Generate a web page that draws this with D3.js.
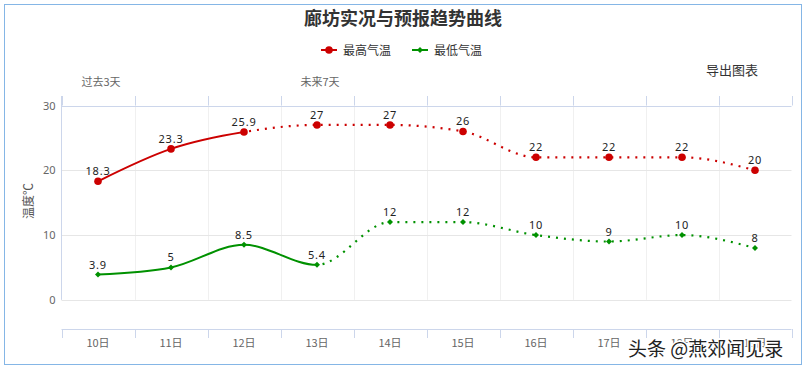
<!DOCTYPE html>
<html>
<head>
<meta charset="utf-8">
<script src="https://cdn.jsdelivr.net/npm/d3@7"></script>
<style>
  body { margin: 0; background: #fff; }
  text { font-family: "Noto Sans CJK SC", "Noto Sans", sans-serif; }
</style>
</head>
<body>
<script>
// chart data
var days = ["10日", "11日", "12日", "13日", "14日", "15日", "16日", "17日", "18日", "19日"];
var highTemps = [18.3, 23.3, 25.9, 27, 27, 26, 22, 22, 22, 20];
var lowTemps = [3.9, 5, 8.5, 5.4, 12, 12, 10, 9, 10, 8];
var yTicks = [0, 10, 20, 30];
var periodLabels = [["10日", "过去3天"], ["13日", "未来7天"]];
// index where the observed part stops and the forecast starts
var highSplit = 2;
var lowSplit = 3;

var w = 807, h = 371;
// note: "top" is a reserved window property, so use plotX0 etc.
var plotX0 = 61.5, plotX1 = 791.5, plotY0 = 105.5, plotY1 = 329;

var svg = d3.select("body").append("svg")
    .attr("width", w)
    .attr("height", h);

// outer frame
svg.append("rect")
    .attr("x", 4.5).attr("y", 4.5)
    .attr("width", 797).attr("height", 360)
    .attr("fill", "none")
    .attr("stroke", "#85b6e6");

var xScale = d3.scaleBand()
    .domain(days)
    .range([plotX0, plotX1]);

var yScale = d3.scaleLinear()
    .domain([-4.5, 30])
    .range([plotY1, plotY0]);

var cx = function(i) { return xScale(days[i]) + xScale.bandwidth() / 2; };
var edges = days.map(function(d) { return xScale(d); }).concat(plotX1);

// vertical grid lines
svg.selectAll(".vgrid")
    .data(edges.slice(1, -1))
    .enter().append("line")
    .attr("x1", function(d) { return Math.round(d) + 0.5; })
    .attr("x2", function(d) { return Math.round(d) + 0.5; })
    .attr("y1", plotY0).attr("y2", yScale(0))
    .attr("stroke", "#f0f0f0");

// horizontal grid lines
svg.selectAll(".hgrid")
    .data(yTicks)
    .enter().append("line")
    .attr("x1", plotX0).attr("x2", plotX1)
    .attr("y1", function(d) { return Math.round(yScale(d)) + 0.5; })
    .attr("y2", function(d) { return Math.round(yScale(d)) + 0.5; })
    .attr("stroke", function(d) { return d === 30 ? "#ccd6eb" : "#e6e6e6"; });

// y axis line
svg.append("line")
    .attr("x1", plotX0).attr("x2", plotX0)
    .attr("y1", 96).attr("y2", yScale(0))
    .attr("stroke", "#ccd6eb");

// top axis ticks
svg.selectAll(".ttick")
    .data(edges)
    .enter().append("line")
    .attr("x1", function(d) { return Math.round(d) + 0.5; })
    .attr("x2", function(d) { return Math.round(d) + 0.5; })
    .attr("y1", 96).attr("y2", plotY0)
    .attr("stroke", "#ccd6eb");

// bottom axis
svg.append("line")
    .attr("x1", plotX0).attr("x2", plotX1)
    .attr("y1", plotY1 + 0.5).attr("y2", plotY1 + 0.5)
    .attr("stroke", "#ccd6eb");
svg.selectAll(".btick")
    .data(edges)
    .enter().append("line")
    .attr("x1", function(d) { return Math.round(d) + 0.5; })
    .attr("x2", function(d) { return Math.round(d) + 0.5; })
    .attr("y1", plotY1).attr("y2", plotY1 + 9)
    .attr("stroke", "#ccd6eb");

var xAxis = d3.axisBottom(xScale).tickSize(0).tickPadding(10);
var gx = svg.append("g")
    .attr("transform", "translate(0," + plotY1 + ")")
    .call(xAxis);
gx.select(".domain").remove();
gx.selectAll("text")
    .attr("font-size", "11px")
    .attr("fill", "#666")
    .style("font-family", "'Noto Sans CJK SC', sans-serif");

var yAxis = d3.axisLeft(yScale).tickValues(yTicks).tickSize(0).tickPadding(6);
var gy = svg.append("g")
    .attr("transform", "translate(" + plotX0 + ",0)")
    .call(yAxis);
gy.select(".domain").remove();
gy.selectAll("text")
    .attr("font-size", "11px")
    .attr("fill", "#666")
    .style("font-family", "'Noto Sans', sans-serif");

// period labels above the plot
svg.selectAll(".period")
    .data(periodLabels)
    .enter().append("text")
    .attr("x", function(d) { return xScale(d[0]) + xScale.bandwidth() / 2 + 3; })
    .attr("y", 86)
    .attr("text-anchor", "middle")
    .attr("font-size", "11px")
    .attr("fill", "#666")
    .text(function(d) { return d[1]; });

// y title
svg.append("text")
    .attr("transform", "translate(33,201) rotate(-90)")
    .attr("text-anchor", "middle")
    .attr("font-size", "12px")
    .attr("fill", "#555")
    .text("温度℃");

// title
svg.append("text")
    .attr("x", 403).attr("y", 25)
    .attr("text-anchor", "middle")
    .attr("font-size", "18px")
    .attr("font-weight", "bold")
    .attr("fill", "#333")
    .text("廊坊实况与预报趋势曲线");

svg.append("text")
    .attr("x", 758).attr("y", 75)
    .attr("text-anchor", "end")
    .attr("font-size", "13px")
    .attr("fill", "#333")
    .text("导出图表");

// series (green markers: square turned 45deg)
var series = [
    { name: "最高气温", values: highTemps, split: highSplit, color: "#cc0000", symbol: d3.symbolCircle, size: 45, rot: 0 },
    { name: "最低气温", values: lowTemps, split: lowSplit, color: "#009100", symbol: d3.symbolSquare, size: 18, rot: 45 }
];

var line = d3.line()
    .x(function(d, i) { return cx(i); })
    .y(function(d) { return yScale(d); })
    .curve(d3.curveMonotoneX);

var defs = svg.append("defs");

series.forEach(function(s, k) {
    var splitX = cx(s.split);
    defs.append("clipPath").attr("id", "solid" + k)
        .append("rect").attr("x", 0).attr("y", 0).attr("width", splitX).attr("height", h);
    defs.append("clipPath").attr("id", "dot" + k)
        .append("rect").attr("x", splitX).attr("y", 0).attr("width", w - splitX).attr("height", h);

    svg.append("path")
        .attr("d", line(s.values))
        .attr("fill", "none")
        .attr("stroke", s.color)
        .attr("stroke-width", 2)
        .attr("clip-path", "url(#solid" + k + ")");

    svg.append("path")
        .attr("d", line(s.values))
        .attr("fill", "none")
        .attr("stroke", s.color)
        .attr("stroke-width", 2.2)
        .attr("stroke-dasharray", "2,6")
        .attr("clip-path", "url(#dot" + k + ")");

    svg.selectAll(".pt" + k)
        .data(s.values)
        .enter().append("path")
        .attr("d", d3.symbol().type(s.symbol).size(s.size))
        .attr("transform", function(d, i) {
            return "translate(" + cx(i) + "," + yScale(d) + ") rotate(" + s.rot + ")";
        })
        .attr("fill", s.color);

    svg.selectAll(".lb" + k)
        .data(s.values)
        .enter().append("text")
        .attr("x", function(d, i) { return cx(i); })
        .attr("y", function(d) { return yScale(d) - 6; })
        .attr("text-anchor", "middle")
        .attr("font-size", "11px")
        .attr("letter-spacing", "0.8px")
        .attr("fill", "#222")
        .style("font-family", "'Noto Sans', sans-serif")
        .text(function(d) { return d; });
});

// legend
var legend = svg.selectAll(".legend")
    .data(series)
    .enter().append("g")
    .attr("transform", function(d, i) { return "translate(" + (321 + i * 91) + ",50)"; });
legend.append("line")
    .attr("x1", 0).attr("x2", 16)
    .attr("stroke", function(d) { return d.color; })
    .attr("stroke-width", 2);
legend.append("path")
    .attr("d", function(d) { return d3.symbol().type(d.symbol).size(d.size)(); })
    .attr("transform", function(d) { return "translate(8,0) rotate(" + d.rot + ")"; })
    .attr("fill", function(d) { return d.color; });
legend.append("text")
    .attr("x", 22).attr("y", 4.5)
    .attr("font-size", "12px")
    .attr("fill", "#333")
    .text(function(d) { return d.name; });

// watermark
svg.append("text")
    .attr("x", 628).attr("y", 356)
    .attr("font-size", "19px")
    .attr("fill", "#222")
    .attr("stroke", "#fff")
    .attr("stroke-width", 3)
    .attr("paint-order", "stroke")
    .text("头条 @燕郊闻见录");
</script>
</body>
</html>
